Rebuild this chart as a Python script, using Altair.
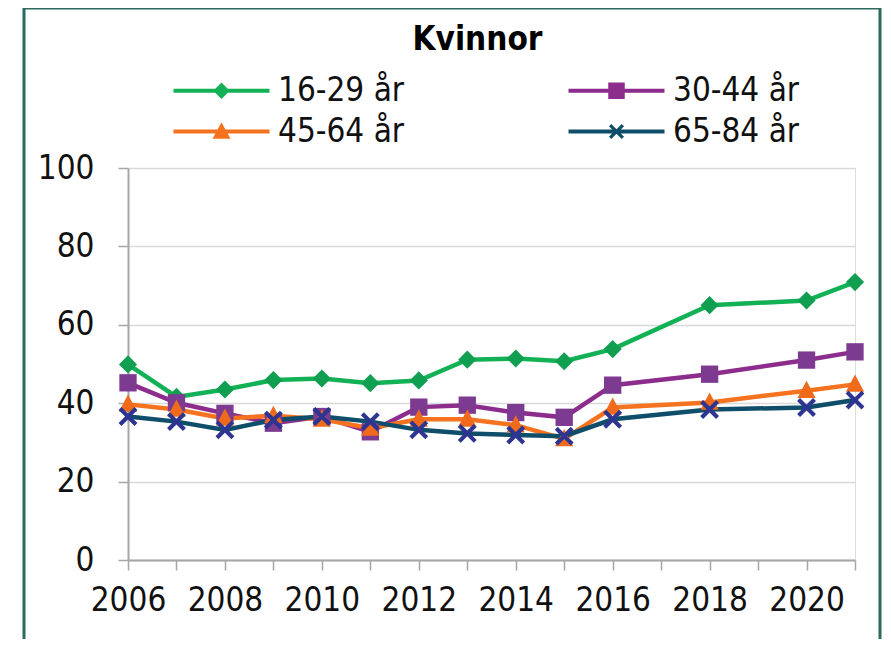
import math
import altair as alt
import pandas as pd

# ---------------- data ----------------
years = [2006, 2007, 2008, 2009, 2010, 2011, 2012, 2013, 2014, 2015, 2016, 2018, 2020, 2021]
series_names = ["16-29 år", "30-44 år", "45-64 år", "65-84 år"]
v16_29 = [49.9, 41.6, 43.5, 45.9, 46.3, 45.1, 45.8, 51.1, 51.4, 50.7, 53.8, 65.0, 66.2, 70.9]
v30_44 = [45.2, 40.1, 37.4, 34.9, 36.6, 32.7, 39.0, 39.5, 37.6, 36.4, 44.6, 47.4, 51.0, 53.1]
v45_64 = [39.7, 38.4, 36.1, 36.8, 35.9, 33.6, 35.9, 35.9, 34.4, 30.9, 38.9, 40.2, 43.2, 44.8]
v65_84 = [36.6, 35.3, 33.2, 35.7, 36.6, 35.3, 33.2, 32.3, 31.9, 31.6, 35.9, 38.4, 38.9, 40.8]
y_ticks = [0, 20, 40, 60, 80, 100]
x_ticks = list(range(2006, 2022))
title_text = "Kvinnor"

line_colors = ["#12b155", "#8c2d8d", "#f5731f", "#0f4e6a"]
marker_colors = ["#109e50", "#7d3a91", "#f06a1c", "#2d3591"]

rows = []
for name, vals in zip(series_names, [v16_29, v30_44, v45_64, v65_84]):
    for yr, v in zip(years, vals):
        rows.append({"year": yr, "value": v, "series": name})
df = pd.DataFrame(rows)

# ---------------- marker shapes (SVG paths) ----------------
def poly(pts):
    return "M" + " L".join(f"{x:.3f},{y:.3f}" for x, y in pts) + " Z"

def x_shape(a, t):
    pts = [(-t, -a), (t, -a), (t, -t), (a, -t), (a, t), (t, t), (t, a), (-t, a),
           (-t, t), (-a, t), (-a, -t), (-t, -t)]
    s = math.sqrt(2)
    return poly([((x - y) / s, (x + y) / s) for x, y in pts])

plot_shapes = [
    poly([(0, -1.05), (1.05, 0), (0, 1.05), (-1.05, 0)]),
    poly([(-1, -1), (1, -1), (1, 1), (-1, 1)]),
    poly([(0, -1.15), (1.05, 0.85), (-1.05, 0.85)]),
    x_shape(1.3, 0.24),
]

leg_line = poly([(-3.2, -0.14), (3.2, -0.14), (3.2, 0.14), (-3.2, 0.14)])
legend_shapes = [
    leg_line + " " + poly([(0, -0.55), (0.55, 0), (0, 0.55), (-0.55, 0)]),
    leg_line + " " + poly([(-0.55, -0.55), (0.55, -0.55), (0.55, 0.55), (-0.55, 0.55)]),
    leg_line + " " + poly([(0, -0.62), (0.6, 0.48), (-0.6, 0.48)]),
    leg_line + " " + x_shape(0.6, 0.11),
]

FONT = "DejaVu Sans Condensed"
AXIS_GREY = "#a6a6a6"

x_enc = alt.X(
    "year:Q",
    scale=alt.Scale(domain=[2006, 2021], nice=False, zero=False),
    axis=alt.Axis(
        values=x_ticks, format="d",
        labelExpr="datum.value % 2 == 0 && datum.value < 2021 ? datum.label : ''",
        title=None, grid=False, domainColor=AXIS_GREY, domainWidth=2,
        tickColor=AXIS_GREY, tickWidth=1.5, tickSize=10, labelPadding=14,
        labelFont=FONT, labelFontSize=33, labelColor="#111111", labelOverlap=False,
        labelFlush=False,
    ),
)
y_enc = alt.Y(
    "value:Q",
    scale=alt.Scale(domain=[0, 100], nice=False),
    axis=alt.Axis(
        values=y_ticks, title=None, grid=True, gridColor="#d9d9d9", gridWidth=1.5,
        domainColor=AXIS_GREY, domainWidth=2, tickColor=AXIS_GREY, tickWidth=1.5,
        tickSize=10, labelPadding=24, labelFont=FONT, labelFontSize=33,
        labelColor="#111111",
    ),
)

frame = alt.Chart(alt.Data(values=[{}])).mark_rect(
    fillOpacity=0, stroke="#2a6b5b", strokeWidth=3
).encode(
    x=alt.value(-104), x2=alt.value(752), y=alt.value(-160), y2=alt.value(480)
)

lines = alt.Chart(df).mark_line(strokeWidth=4.5).encode(
    x=x_enc, y=y_enc,
    color=alt.Color("series:N", scale=alt.Scale(domain=series_names, range=line_colors), legend=None),
)

points = alt.Chart(df).mark_point(filled=True, size=300, opacity=1).encode(
    x=x_enc, y=y_enc,
    color=alt.Color("series:N", scale=alt.Scale(domain=series_names, range=marker_colors), legend=None),
    shape=alt.Shape("series:N", scale=alt.Scale(domain=series_names, range=plot_shapes), legend=None),
)

leg = dict(
    title=None, orient="none", legendX=77, legendY=-94, columns=2, columnPadding=163,
    direction="horizontal",
    rowPadding=7, labelOffset=40, labelFont=FONT, labelFontSize=33, labelColor="#111111",
    symbolSize=900, symbolStrokeWidth=0, padding=0, labelLimit=400,
)
legend_layer = alt.Chart(df).transform_filter("false").mark_point(
    filled=True, size=900, opacity=1
).encode(
    color=alt.Color("series:N", scale=alt.Scale(domain=series_names, range=line_colors),
                    legend=alt.Legend(**leg)),
    shape=alt.Shape("series:N", scale=alt.Scale(domain=series_names, range=legend_shapes),
                    legend=alt.Legend(**leg)),
)

chart = alt.layer(frame, lines, points, legend_layer).resolve_scale(
    color="independent", shape="independent"
).properties(
    width=727, height=392,
    title=alt.TitleParams(title_text, font=FONT, fontSize=33, fontWeight="bold",
                          anchor="middle", dx=-14, dy=60, offset=10, color="#000000"),
    autosize=alt.AutoSizeParams(type="none"),
    padding={"left": 120, "top": 160, "right": 28, "bottom": 79},
).configure_view(strokeWidth=0).configure(background="white")

chart.save("out.html", embed_options={"renderer": "svg", "actions": False})
